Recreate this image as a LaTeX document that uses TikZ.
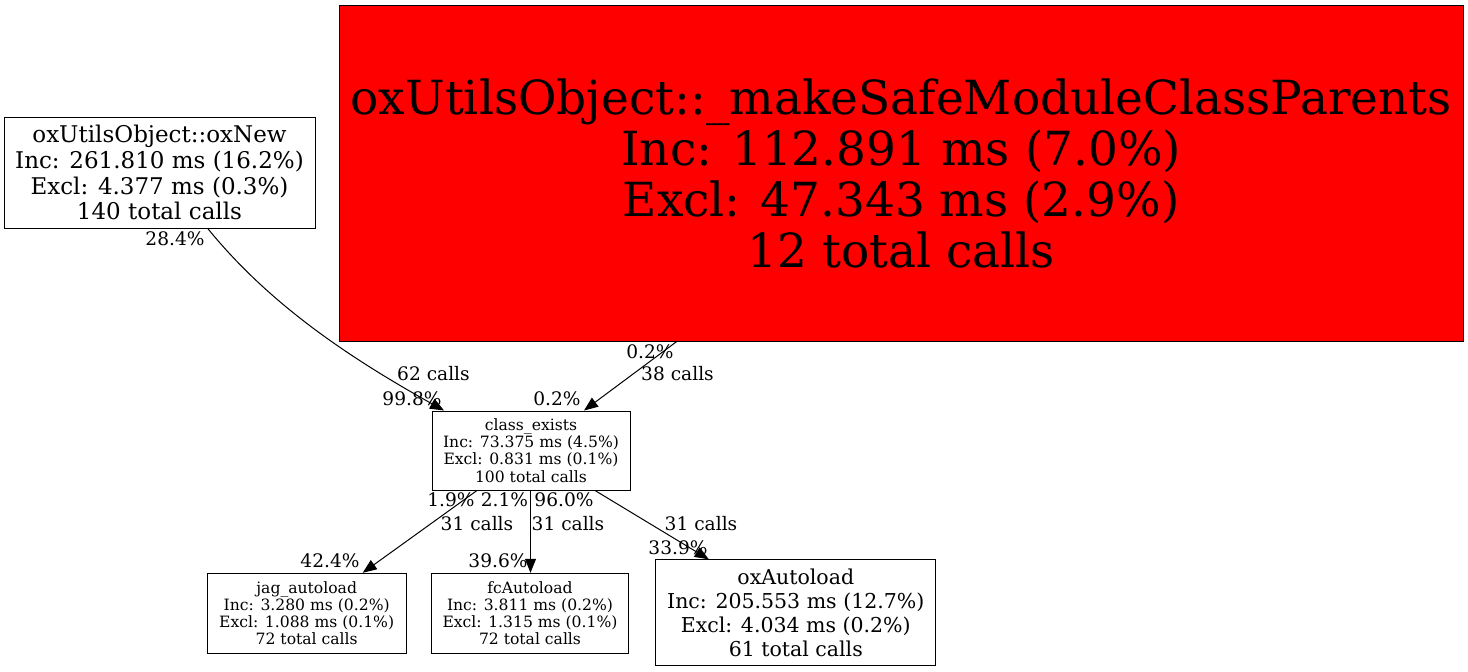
\documentclass[tikz,border=0pt]{standalone}
\usepackage{fontspec}
\setmainfont{DejaVu Serif}
\usetikzlibrary{arrows.meta}

\begin{document}
\begin{tikzpicture}[x=1pt,y=-1pt]

\tikzstyle{fn}=[rectangle,draw,line width=1pt,inner sep=0pt,align=center]
\tikzstyle{pct}=[inner sep=0pt,font=\fontsize{18.6}{20}\selectfont]
\tikzstyle{call}=[-{Triangle[length=14pt,width=11pt]},line width=1pt]

\useasboundingbox (0,0) rectangle (1468,672);

\node[fn,minimum width=311pt,minimum height=111pt,font=\fontsize{23}{25.7}\selectfont]
      (new)     at (159.5,172.8) {oxUtilsObject::oxNew\\Inc: 261.810 ms (16.2\%)\\Excl: 4.377 ms (0.3\%)\\140 total calls} ;
\node[fn,fill=red,minimum width=1123.5pt,minimum height=336pt,font=\fontsize{47}{51}\selectfont]
      (parents) at (901.25,173) {oxUtilsObject::\_makeSafeModuleClassParents\\Inc: 112.891 ms (7.0\%)\\Excl: 47.343 ms (2.9\%)\\12 total calls} ;
\node[fn,minimum width=198pt,minimum height=79pt,font=\fontsize{15.6}{17.2}\selectfont]
      (exists)  at (531,450.5) {class\_exists\\Inc: 73.375 ms (4.5\%)\\Excl: 0.831 ms (0.1\%)\\100 total calls} ;
\node[fn,minimum width=199pt,minimum height=80pt,font=\fontsize{15.6}{17.2}\selectfont]
      (jag)     at (306.7,613.3) {jag\_autoload\\Inc: 3.280 ms (0.2\%)\\Excl: 1.088 ms (0.1\%)\\72 total calls} ;
\node[fn,minimum width=197pt,minimum height=80pt,font=\fontsize{15.6}{17.2}\selectfont]
      (fc)      at (530,613.3) {fcAutoload\\Inc: 3.811 ms (0.2\%)\\Excl: 1.315 ms (0.1\%)\\72 total calls} ;
\node[fn,minimum width=280pt,minimum height=106pt,font=\fontsize{20.5}{24}\selectfont]
      (auto)    at (795.8,612.8) {oxAutoload\\Inc: 205.553 ms (12.7\%)\\Excl: 4.034 ms (0.2\%)\\61 total calls} ;

% edge labels
\node[pct] (newout)    at (175,239)   {28.4\%} ;
\node[pct] (newcalls)  at (433.5,374) {62 calls} ;
\node[pct] (newin)     at (412,399)   {99.8\%} ;
\node[pct] (parout)    at (650,352)   {0.2\%} ;
\node[pct] (parcalls)  at (677.5,374) {38 calls} ;
\node[pct] (parin)     at (557,399)   {0.2\%} ;
\node[pct] (jagout)    at (451,500)   {1.9\%} ;
\node[pct] (fcout)     at (504.5,500) {2.1\%} ;
\node[pct] (autoout)   at (564,500)   {96.0\%} ;
\node[pct] (jagcalls)  at (477,524)   {31 calls} ;
\node[pct] (fccalls)   at (568,524)   {31 calls} ;
\node[pct] (autocalls) at (701,524)   {31 calls} ;
\node[pct] (jagin)     at (330,561)   {42.4\%} ;
\node[pct] (fcin)      at (498,561)   {39.6\%} ;
\node[pct] (autoin)    at (678,548)   {33.9\%} ;

\draw [call] ([xshift=48.5pt]new.south) .. controls (270,305) and (350,358) .. ([xshift=-87pt]exists.north);
\draw [call] ([xshift=-224.5pt]parents.south) -- ([xshift=53pt]exists.north);
\draw [call] ([xshift=-54pt]exists.south) -- ([xshift=56pt]jag.north);
\draw [call] ([xshift=-0.5pt]exists.south) -- ([xshift=0.5pt]fc.north);
\draw [call] ([xshift=64pt]exists.south) -- ([xshift=-87pt]auto.north);

\end{tikzpicture}
\end{document}
